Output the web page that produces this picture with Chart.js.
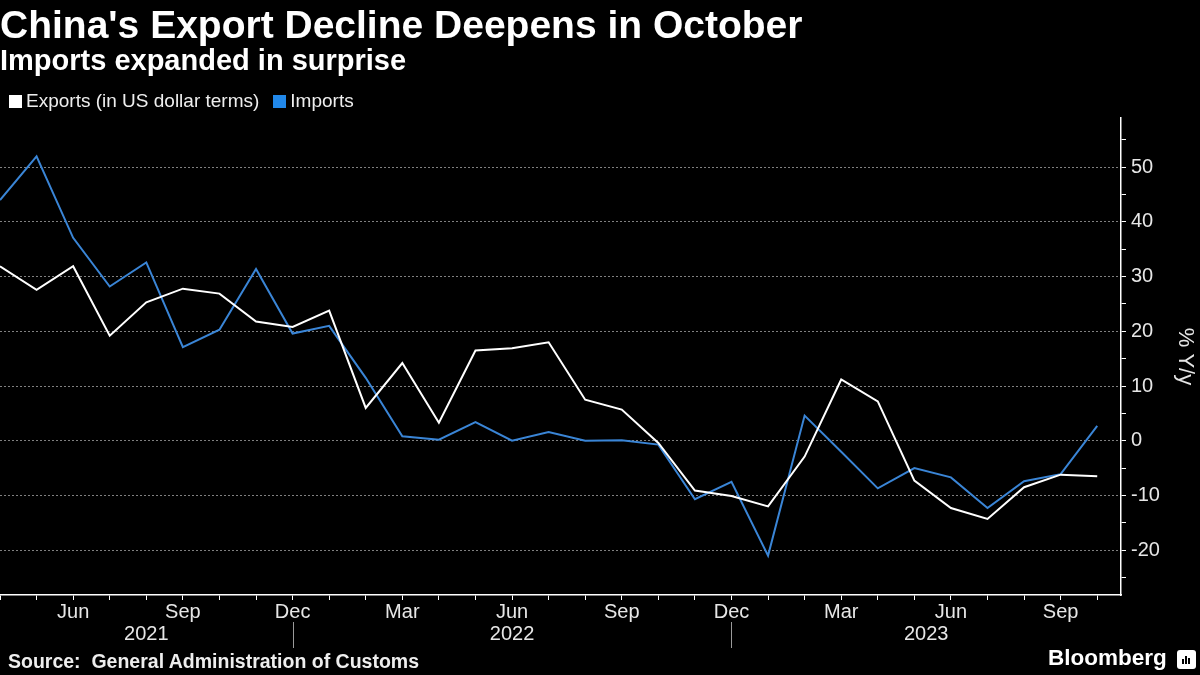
<!DOCTYPE html>
<html>
<head>
<meta charset="utf-8">
<script src="https://cdn.jsdelivr.net/npm/chart.js@4.4.1/dist/chart.umd.min.js"></script>
<style>
  body { margin: 0; background: #000; width: 1200px; height: 675px; overflow: hidden; position: relative;
         font-family: "Liberation Sans", Arial, sans-serif; color: #fff; }
  canvas { position: absolute; left: 0; top: 0; }
  .txt { position: absolute; white-space: nowrap; }
  #title { left: 0; top: 5px; font-size: 39px; line-height: 39px; font-weight: bold; }
  #subtitle { left: 0; top: 46px; font-size: 29px; line-height: 29px; font-weight: bold; }
  #legend { left: 9px; top: 91px; font-size: 19px; line-height: 19px; color: #eee; }
  #legend span.sw { display: inline-block; width: 13px; height: 13px; margin-right: 4px; vertical-align: -1px; }
  #legend span.item { margin-right: 14px; }
  #source { left: 8px; top: 652px; font-size: 19.5px; line-height: 19px; font-weight: bold; color: #eee; }
  #brand { left: 1048px; top: 647px; font-size: 22.5px; line-height: 22px; font-weight: bold; }
  #logo { position: absolute; left: 1177px; top: 650px; width: 19px; height: 19px; background: #fff; border-radius: 3px; }
  #logo i { position: absolute; bottom: 5px; width: 2px; background: #000; }
</style>
</head>
<body>
<canvas id="chart" width="1200" height="675"></canvas>
<div class="txt" id="title">China's Export Decline Deepens in October</div>
<div class="txt" id="subtitle">Imports expanded in surprise</div>
<div class="txt" id="legend"><span class="item"><span class="sw" style="background:#fff"></span>Exports (in US dollar terms)</span><span class="item"><span class="sw" style="background:#2188ea"></span>Imports</span></div>
<div class="txt" id="source">Source:&nbsp; General Administration of Customs</div>
<div class="txt" id="brand">Bloomberg</div>
<div id="logo"><i style="left:5px;height:5px"></i><i style="left:8px;height:8px"></i><i style="left:11px;height:6px"></i></div>
<script>
// monthly, Apr 2021 - Oct 2023
const months = [
  '2021-04', '2021-05', '2021-06', '2021-07', '2021-08', '2021-09', '2021-10', '2021-11', '2021-12',
  '2022-01', '2022-02', '2022-03', '2022-04', '2022-05', '2022-06', '2022-07', '2022-08', '2022-09',
  '2022-10', '2022-11', '2022-12',
  '2023-01', '2023-02', '2023-03', '2023-04', '2023-05', '2023-06', '2023-07', '2023-08', '2023-09',
  '2023-10'
];
const exportsYoY = [31.9, 27.6, 31.9, 19.2, 25.3, 27.8, 26.9, 21.8, 20.8, 23.8, 6.0, 14.2, 3.3, 16.5, 16.9,
  18.0, 7.5, 5.7, -0.4, -9.1, -10.1, -12.0, -2.9, 11.2, 7.2, -7.3, -12.3, -14.3, -8.5, -6.2, -6.5];
const importsYoY = [44.0, 52.0, 37.1, 28.2, 32.6, 17.1, 20.3, 31.4, 19.6, 21.0, 11.5, 0.8, 0.2, 3.4, 0.0,
  1.6, 0.0, 0.1, -0.7, -10.7, -7.5, -21.0, 4.6, -2.0, -8.7, -5.0, -6.7, -12.3, -7.4, -6.1, 2.7];

const monthNames = ['Jan', 'Feb', 'Mar', 'Apr', 'May', 'Jun', 'Jul', 'Aug', 'Sep', 'Oct', 'Nov', 'Dec'];
const labelledMonths = ['Mar', 'Jun', 'Sep', 'Dec'];
const yTickValues = [-25, -20, -15, -10, -5, 0, 5, 10, 15, 20, 25, 30, 35, 40, 45, 50, 55];

const FONT = '"Liberation Sans", Arial, sans-serif';

// year labels under the month labels, split at December
const yearAxis = {
  id: 'yearAxis',
  afterDraw(chart) {
    const sx = chart.scales.x;
    const ctx = chart.ctx;
    const years = [...new Set(months.map(m => m.slice(0, 4)))];
    ctx.save();
    ctx.font = '20px ' + FONT;
    ctx.fillStyle = '#e6e6e6';
    ctx.textAlign = 'center';
    ctx.textBaseline = 'middle';
    ctx.strokeStyle = '#9a9a9a';
    ctx.lineWidth = 1;
    years.forEach(yr => {
      const idx = months.map((m, i) => m.startsWith(yr) ? i : -1).filter(i => i >= 0);
      const first = idx[0], last = idx[idx.length - 1];
      const endsDec = months[last].endsWith('-12');
      const from = Math.max(sx.min, first - 1);
      const to = endsDec ? last : sx.max;
      ctx.fillText(yr, (sx.getPixelForValue(from) + sx.getPixelForValue(to)) / 2, 634);
      if (endsDec) {
        const px = Math.round(sx.getPixelForValue(last)) + 0.5;
        ctx.beginPath();
        ctx.moveTo(px, 622);
        ctx.lineTo(px, 648);
        ctx.stroke();
      }
    });
    ctx.restore();
  }
};

new Chart(document.getElementById('chart').getContext('2d'), {
  type: 'line',
  data: {
    datasets: [
      { label: 'Exports (in US dollar terms)', data: exportsYoY.map((v, i) => ({ x: i, y: v })),
        borderColor: '#ffffff', borderWidth: 2, pointRadius: 0, tension: 0 },
      { label: 'Imports', data: importsYoY.map((v, i) => ({ x: i, y: v })),
        borderColor: '#3a85d6', borderWidth: 2, pointRadius: 0, tension: 0 }
    ]
  },
  options: {
    responsive: false,
    animation: false,
    devicePixelRatio: 1,
    layout: { padding: { top: 118, left: 0, right: 0, bottom: 0 } },
    plugins: { legend: { display: false }, title: { display: false }, tooltip: { enabled: false } },
    scales: {
      x: {
        type: 'linear', min: 0, max: 30.65,
        afterBuildTicks: s => { s.ticks = months.map((m, i) => ({ value: i })); },
        afterFit: s => { s.height = 80; },
        ticks: {
          autoSkip: false, maxRotation: 0, padding: 0, color: '#e6e6e6', font: { family: FONT, size: 20 },
          callback: v => {
            const m = months[v];
            if (!m) return '';
            const name = monthNames[+m.slice(5) - 1];
            return labelledMonths.includes(name) ? name : '';
          }
        },
        grid: { drawOnChartArea: false, tickColor: '#fff', tickLength: 5, tickWidth: 1 },
        border: { color: '#fff', width: 1.5 }
      },
      y: {
        position: 'right', min: -28.2, max: 59,
        afterBuildTicks: s => { s.ticks = yTickValues.map(v => ({ value: v })); },
        afterFit: s => { s.width = 79; },
        ticks: {
          padding: 5, color: '#e6e6e6', font: { family: FONT, size: 20 },
          callback: v => (v % 10 === 0 ? String(v) : '')
        },
        grid: {
          color: c => (c.tick && c.tick.value % 10 === 0 ? 'rgba(255,255,255,0.5)' : 'rgba(0,0,0,0)'),
          lineWidth: 1, tickColor: '#fff', tickLength: 5, tickWidth: 1
        },
        border: { color: '#fff', width: 1.5, dash: [2, 2] },
        title: { display: true, text: '% Y/y', color: '#e6e6e6', font: { family: FONT, size: 22 }, padding: { top: 2, bottom: 4 } }
      }
    }
  },
  plugins: [yearAxis]
});
</script>
</body>
</html>
